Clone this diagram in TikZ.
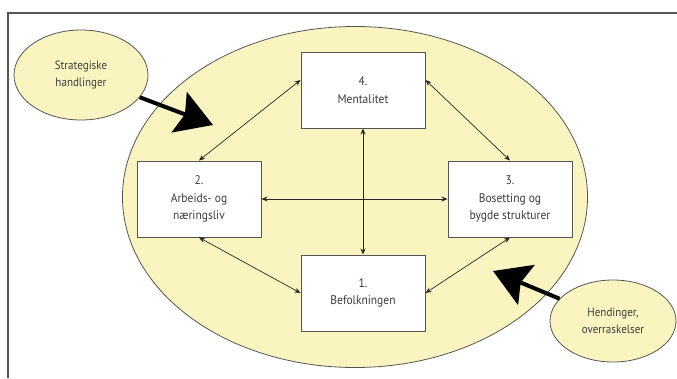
\documentclass[tikz,border=0pt]{standalone}
\usepackage{fontspec}
\setmainfont{PT Sans}[FakeStretch=0.92]
\usepackage{xcolor}
\usepackage{tikz}
\usetikzlibrary{shapes.geometric, arrows.meta, positioning}
\definecolor{paleyellow}{RGB}{250,245,192}
\definecolor{textgray}{RGB}{60,60,60}
\definecolor{linegray}{RGB}{85,85,85}
\tikzset{
    region/.style={ellipse, draw=linegray, line width=0.8pt, fill=paleyellow},
    influence/.style={ellipse, draw=linegray, line width=0.8pt, fill=paleyellow, align=center, text=textgray, font=\fontsize{12}{17}\selectfont},
    factor/.style={rectangle, minimum width=124pt, minimum height=76pt, draw=linegray, line width=1pt, fill=white, align=center, text=textgray, font=\fontsize{12.5}{17.5}\selectfont},
    link/.style={draw=black!85, line width=0.7pt, {Stealth[length=6pt,width=5pt]}-{Stealth[length=6pt,width=5pt]}},
    push/.style={draw=black, line width=4pt, -{Stealth[length=36pt,width=43pt,inset=6pt]}}
}

\begin{document}
\begin{tikzpicture}[x=1pt, y=-1pt]
        \useasboundingbox (0,0) rectangle (677,378);
        % Frame
        \draw[linegray, line width=1.2pt] (8,378) |- (677,13);

        % Nodes
        \node[region, minimum width=465pt, minimum height=341pt] (society) at (355,197) {};
        \node[influence, minimum width=134pt, minimum height=90pt] (strategy) at (81,75) {Strategiske\\handlinger};
        \node[influence, minimum width=126pt, minimum height=82pt] (events) at (613,321) {Hendinger,\\overraskelser};
        \node[factor] (mentality) at (363,90) {4.\\Mentalitet};
        \node[factor, below left=32pt and 39pt of mentality] (business) {2.\\Arbeids- og\\næringsliv};
        \node[factor, below right=32pt and 22pt of mentality] (settlement) {3.\\Bosetting og\\bygde strukturer};
        \node[factor, below=126pt of mentality] (population) {1.\\Befolkningen};
        \coordinate (strategytip) at (213,125);
        \coordinate (eventstip) at (493,271);

        % Arrows
        \draw[link] ([yshift=10pt]mentality.west) -- (business.north);
        \draw[link] ([yshift=10pt]mentality.east) -- (settlement.north);
        \draw[link] (business) -- (settlement);
        \draw[link] (mentality) -- (population);
        \draw[link] (business.south) -- (population.west);
        \draw[link] (settlement.south) -- (population.east);
        \draw[push] (strategy) -- (strategytip);
        \draw[push] (events) -- (eventstip);
    \end{tikzpicture}
\end{document}
